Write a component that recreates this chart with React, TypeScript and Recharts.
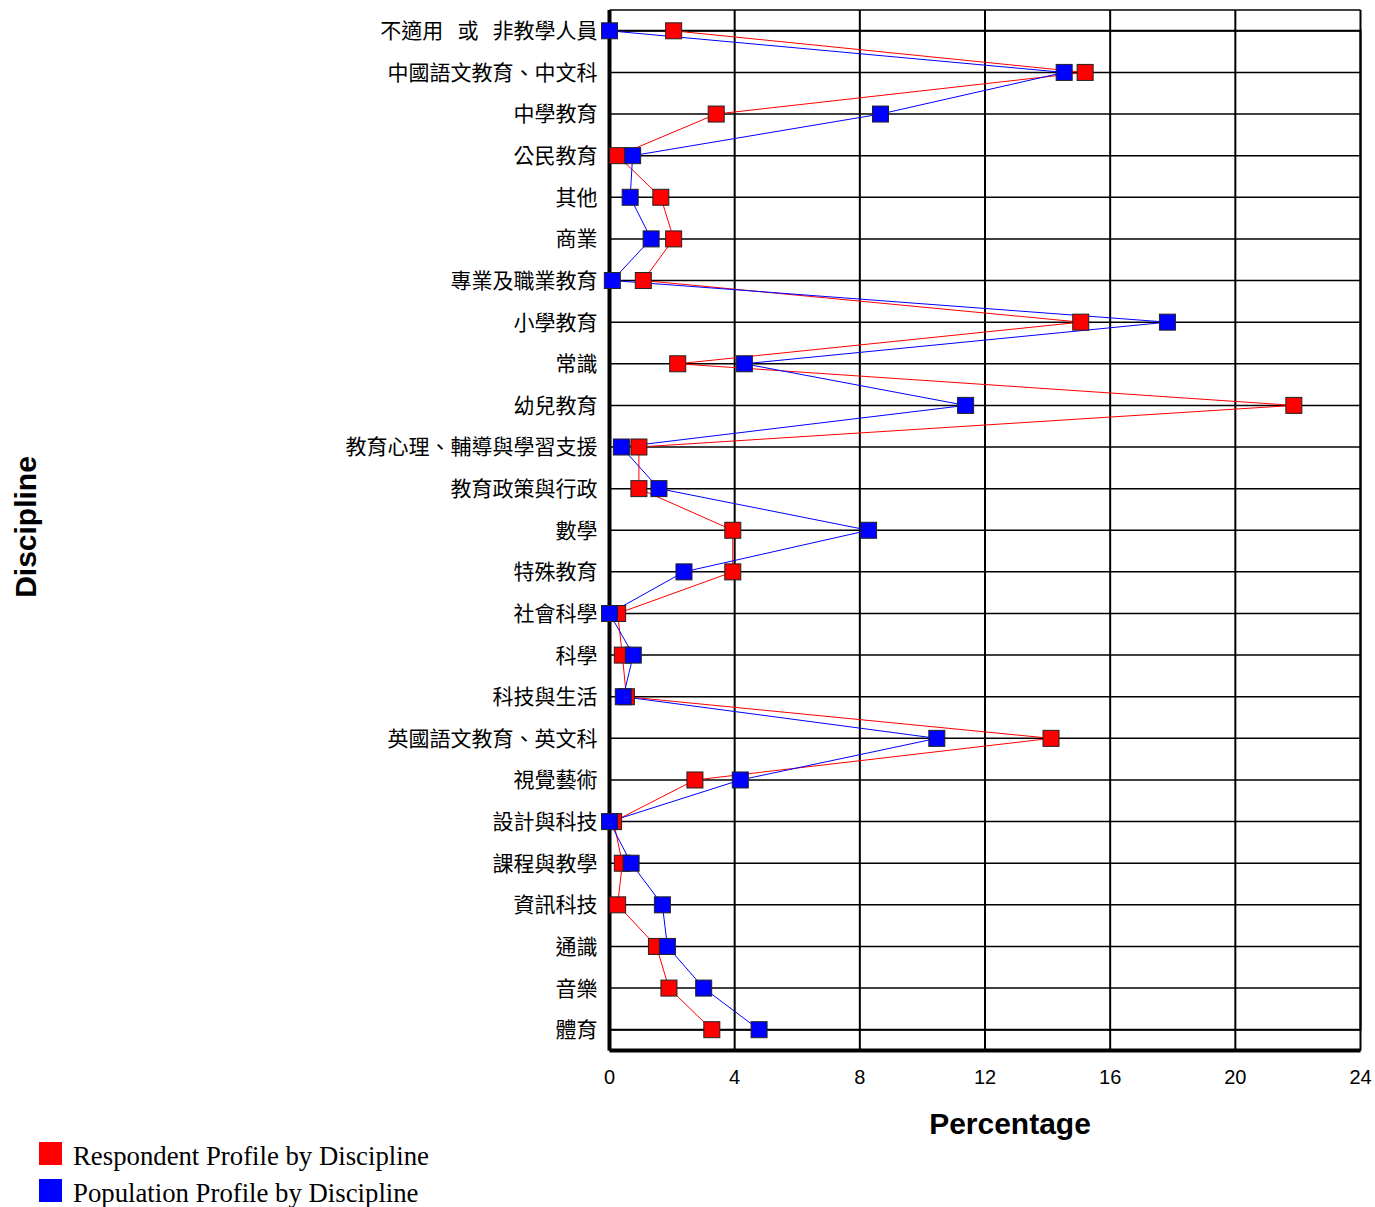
import React from 'react';
import {
  LineChart,
  Line,
  XAxis,
  YAxis,
  CartesianGrid,
  ReferenceArea,
  Label,
} from 'recharts';

const disciplines: string[] = [
  '不適用\u00A0\u00A0\u00A0或\u00A0\u00A0\u00A0非教學人員',
  '中國語文教育、中文科',
  '中學教育',
  '公民教育',
  '其他',
  '商業',
  '專業及職業教育',
  '小學教育',
  '常識',
  '幼兒教育',
  '教育心理、輔導與學習支援',
  '教育政策與行政',
  '數學',
  '特殊教育',
  '社會科學',
  '科學',
  '科技與生活',
  '英國語文教育、英文科',
  '視覺藝術',
  '設計與科技',
  '課程與教學',
  '資訊科技',
  '通識',
  '音樂',
  '體育',
];

const respondent: number[] = [
  2.05, 15.2, 3.41, 0.26, 1.64, 2.05, 1.08, 15.06, 2.18, 21.87, 0.94, 0.94, 3.94,
  3.94, 0.26, 0.41, 0.54, 14.11, 2.73, 0.13, 0.41, 0.26, 1.5, 1.9, 3.27,
];

const population: number[] = [
  0, 14.53, 8.66, 0.74, 0.66, 1.33, 0.09, 17.83, 4.31, 11.38, 0.38, 1.58, 8.28,
  2.38, 0, 0.76, 0.44, 10.46, 4.18, 0, 0.69, 1.69, 1.85, 3.01, 4.78,
];

const xTicks: number[] = [0, 4, 8, 12, 16, 20, 24];

const seriesNames = {
  respondent: 'Respondent Profile by Discipline',
  population: 'Population Profile by Discipline',
};

const data = disciplines.map((name, i) => ({
  name,
  respondent: respondent[i],
  population: population[i],
}));

const SquareDot = (color: string) => (props: any) => {
  const { cx, cy, index } = props;
  if (cx == null || cy == null) return <g key={index} />;
  return (
    <rect
      key={index}
      x={cx - 8}
      y={cy - 8}
      width={16}
      height={16}
      fill={color}
      stroke="#222"
      strokeWidth={1}
    />
  );
};

const sans = "'Liberation Sans', Arial, sans-serif";
const cjk = "'Noto Sans CJK TC', 'Noto Sans CJK SC', sans-serif";
const serif = "'Liberation Serif', 'Times New Roman', serif";

const legendItems = [
  { label: seriesNames.respondent, color: '#ff0000', squareTop: 1142, textTop: 1145.5 },
  { label: seriesNames.population, color: '#0000ff', squareTop: 1179, textTop: 1183 },
];

export default function App() {
  return (
    <div style={{ position: 'relative', width: 1375, height: 1207, overflow: 'hidden' }}>
      <style>{'body{margin:0}.recharts-surface{overflow:visible}'}</style>
      <div style={{ position: 'absolute', left: 8, top: 8 }}>
        <LineChart
          width={1367}
          height={1140}
          data={data}
          layout="vertical"
          margin={{ top: 2, right: 14.5, left: 0, bottom: 0 }}
        >
          <CartesianGrid
            horizontal={true}
            vertical={false}
            stroke="#000"
            strokeWidth={1.5}
          />
          <CartesianGrid
            horizontal={false}
            vertical={true}
            stroke="#000"
            strokeWidth={2}
          />
          <ReferenceArea x1={0} x2={24} fill="none" stroke="#000" strokeWidth={2} />
          <XAxis
            type="number"
            domain={[0, 24]}
            ticks={xTicks}
            interval={0}
            height={97.5}
            tickLine={false}
            tickSize={17.5}
            tickMargin={2}
            axisLine={{ stroke: '#000', strokeWidth: 4 }}
            tick={{ fill: '#000', fontSize: 20, fontFamily: sans }}
          >
            <Label
              content={() => (
                <text
                  x={1002}
                  y={1126}
                  textAnchor="middle"
                  fontFamily={sans}
                  fontWeight="bold"
                  fontSize={30}
                  fill="#000"
                >
                  Percentage
                </text>
              )}
            />
          </XAxis>
          <YAxis
            type="category"
            dataKey="name"
            width={601.5}
            interval={0}
            padding={{ top: 20.8, bottom: 20.8 }}
            tickLine={false}
            tickSize={10}
            tickMargin={2}
            axisLine={{ stroke: '#000', strokeWidth: 4 }}
            tick={{ fill: '#000', fontSize: 21, fontFamily: cjk }}
          >
            <Label
              content={() => (
                <text
                  transform="translate(17,519) rotate(-90)"
                  textAnchor="middle"
                  dominantBaseline="central"
                  fontFamily={sans}
                  fontWeight="bold"
                  fontSize={30}
                  fill="#000"
                >
                  Discipline
                </text>
              )}
            />
          </YAxis>
          <Line
            dataKey="respondent"
            name={seriesNames.respondent}
            stroke="#ff0000"
            strokeWidth={1}
            dot={SquareDot('#ff0000')}
            activeDot={false}
            isAnimationActive={false}
          />
          <Line
            dataKey="population"
            name={seriesNames.population}
            stroke="#0000ff"
            strokeWidth={1}
            dot={SquareDot('#0000ff')}
            activeDot={false}
            isAnimationActive={false}
          />
        </LineChart>
      </div>
      {legendItems.map((item) => (
        <React.Fragment key={item.label}>
          <div
            style={{
              position: 'absolute',
              left: 39,
              top: item.squareTop,
              width: 23,
              height: 23,
              background: item.color,
            }}
          />
          <div
            style={{
              position: 'absolute',
              left: 73,
              top: item.textTop,
              height: 20,
              fontFamily: serif,
              fontSize: 26.75,
              lineHeight: '20px',
              color: '#000',
              whiteSpace: 'nowrap',
            }}
          >
            {item.label}
          </div>
        </React.Fragment>
      ))}
    </div>
  );
}
